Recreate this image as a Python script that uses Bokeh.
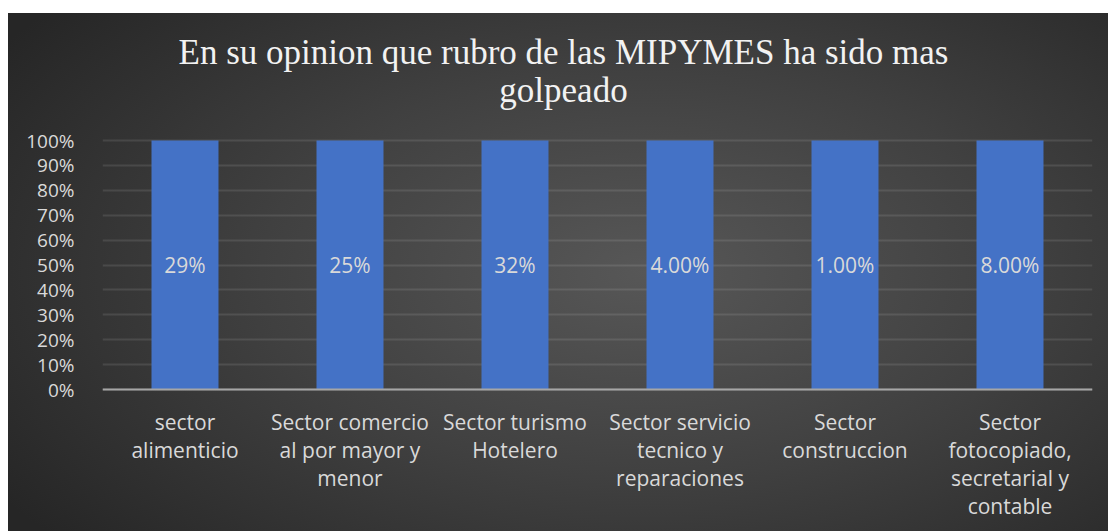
from bokeh.plotting import figure
from bokeh.models import (ColumnDataSource, Range1d, NumeralTickFormatter, FixedTicker,
                          Label, LabelSet, Span)
from bokeh.core.properties import value
from bokeh.embed import file_html
from bokeh.resources import INLINE

categories = [
    "sector alimenticio",
    "Sector comercio al por mayor y menor",
    "Sector turismo Hotelero",
    "Sector servicio tecnico y reparaciones",
    "Sector construccion",
    "Sector fotocopiado, secretarial y contable",
]
category_lines = [
    ["sector", "alimenticio"],
    ["Sector comercio", "al por mayor y", "menor"],
    ["Sector turismo", "Hotelero"],
    ["Sector servicio", "tecnico y", "reparaciones"],
    ["Sector", "construccion"],
    ["Sector", "fotocopiado,", "secretarial y", "contable"],
]
values = [0.29, 0.25, 0.32, 0.04, 0.01, 0.08]
value_labels = ["29%", "25%", "32%", "4.00%", "1.00%", "8.00%"]
bar_share = [1.0, 1.0, 1.0, 1.0, 1.0, 1.0]  # 100% stacked: each bar fills the column
y_ticks = [0.0, 0.1, 0.2, 0.3, 0.4, 0.5, 0.6, 0.7, 0.8, 0.9, 1.0]
title_lines = ["En su opinion que rubro de las MIPYMES ha sido mas", "golpeado"]

# layout: 0..1 spans 249 px; the frame is extended so title and labels sit inside it
PX = 1 / 249.0
FIG_H = 518
Y_TOP_PX = 376   # frame top above the 0% line
y_lo = -(FIG_H - Y_TOP_PX) * PX
y_hi = Y_TOP_PX * PX

src = ColumnDataSource(dict(
    cat=categories, share=bar_share, val=values, lbl=value_labels,
    mid=[s / 2 for s in bar_share],
))

p = figure(
    x_range=categories, y_range=Range1d(y_lo, y_hi),
    width=1100, height=FIG_H,
    output_backend="svg", toolbar_location=None,
    min_border_left=94, min_border_right=16,
    min_border_top=0, min_border_bottom=0,
)
p.title = None

p.background_fill_alpha = 0
p.border_fill_alpha = 0
p.outline_line_color = None
p.styles = {
    "background": "radial-gradient(ellipse 70% 80% at 58% 50%, #575757 0%, #404040 50%, #262626 100%)",
    "margin-top": "13px",
    "margin-left": "8px",
}

p.vbar(x="cat", top="share", bottom=0, width=0.406, source=src,
       fill_color="#4472c6", line_color=None)
p.text(x="cat", y="mid", text="lbl", source=src,
       text_align="center", text_baseline="middle",
       text_font=value("Open Sans"), text_font_size="21px", text_color="#d9d9d9")

# title (two centred lines)
for line, off in zip(title_lines, [88, 50]):
    p.add_layout(Label(
        x=len(categories) / 2, y=1, x_offset=-34, y_offset=off, text=line,
        text_align="center", text_baseline="alphabetic",
        text_font="Liberation Serif", text_font_size="35px", text_color="#f2f2f2",
    ))

# wrapped category labels under the axis
lx, ly, lt, loff = [], [], [], []
for cat, lines in zip(categories, category_lines):
    for j, ln in enumerate(lines):
        lx.append(cat)
        ly.append(0)
        lt.append(ln)
        loff.append(-(32 + 28 * j))
lab_src = ColumnDataSource(dict(x=lx, y=ly, t=lt, off=loff))
p.add_layout(LabelSet(
    x="x", y="y", text="t", y_offset="off", source=lab_src,
    text_align="center", text_baseline="middle",
    text_font=value("Open Sans"), text_font_size="21px", text_color="#d9d9d9",
))

p.yaxis.ticker = FixedTicker(ticks=y_ticks)
p.yaxis.formatter = NumeralTickFormatter(format="0%")
p.yaxis.axis_line_color = None
p.yaxis.major_tick_line_color = None
p.yaxis.minor_tick_line_color = None
p.yaxis.major_label_standoff = 22
p.yaxis.major_label_text_font = "Open Sans"
p.yaxis.major_label_text_font_size = "19px"
p.yaxis.major_label_text_color = "#d9d9d9"

p.xaxis.visible = False
p.add_layout(Span(location=0, dimension="width", line_color="#a6a6a6", line_width=2))

p.xgrid.grid_line_color = None
p.ygrid.grid_line_color = "#ffffff"
p.ygrid.grid_line_alpha = 0.1
p.ygrid.grid_line_width = 2

open("out.html", "w").write(file_html(p, INLINE))
